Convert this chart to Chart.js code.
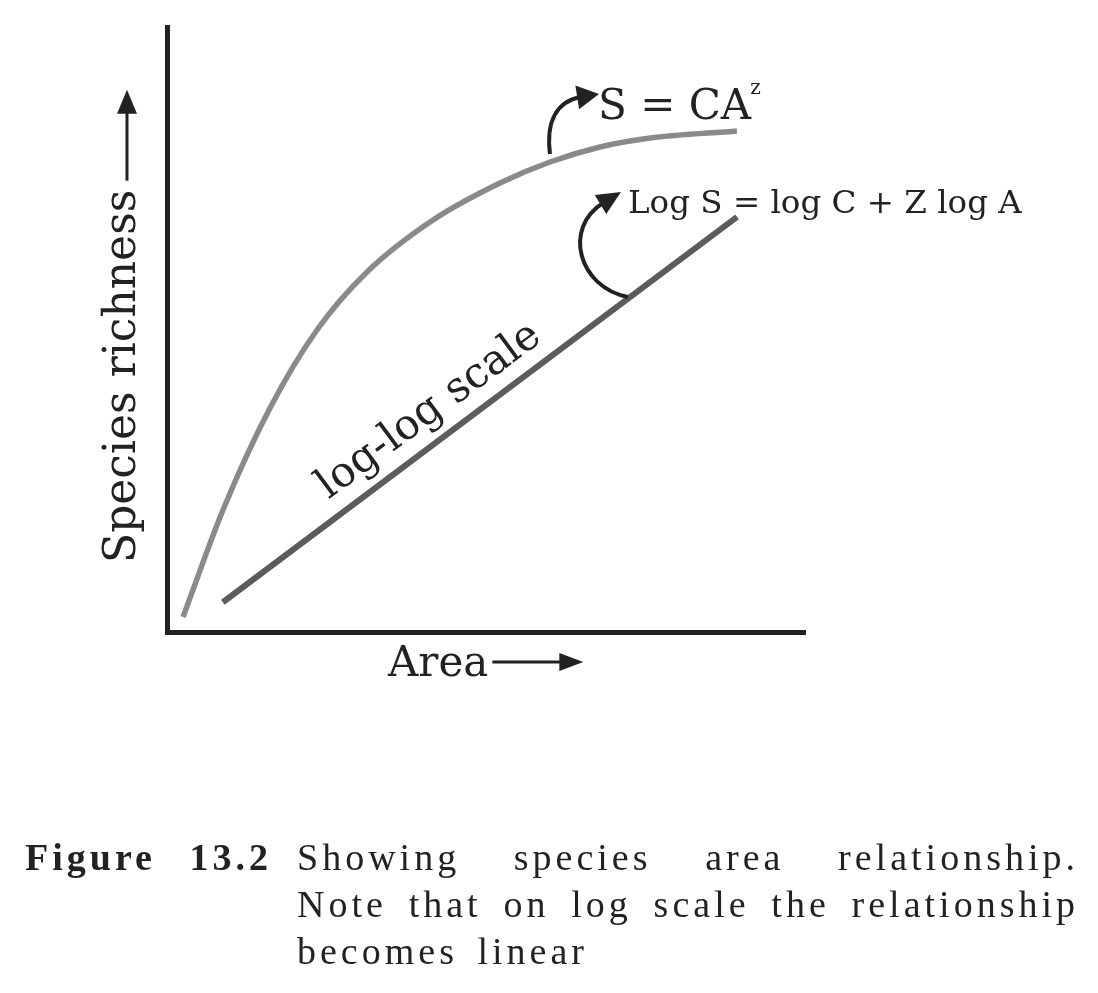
<!DOCTYPE html>
<html>
<head>
<meta charset="utf-8">
<script src="https://cdn.jsdelivr.net/npm/chart.js@4.4.0/dist/chart.umd.min.js"></script>
<style>
  html, body { margin: 0; padding: 0; background: #fff; }
  #wrap { position: relative; width: 1098px; height: 993px; overflow: hidden; }
  #c { position: absolute; left: 0; top: 0; }
  #caption {
    position: absolute; left: 25px; top: 834px; width: 1070px;
    display: flex; font-family: "Liberation Serif", serif; font-size: 38px;
    line-height: 47px; color: #222;
  }
  #caption .label { width: 272px; flex: none; font-weight: bold; letter-spacing: 4px; word-spacing: 20px; white-space: nowrap; }
  #caption .body { width: 782px; flex: none; letter-spacing: 4px; }
  #caption .body div { white-space: nowrap; }
  #caption .body .full { text-align: justify; text-align-last: justify; white-space: normal; }
  #caption .body .last { word-spacing: 6px; }
</style>
</head>
<body>
<div id="wrap">
  <canvas id="c" width="1098" height="993"></canvas>
  <div id="caption">
    <div class="label">Figure 13.2</div>
    <div class="body">
      <div class="full">Showing species area relationship.</div>
      <div class="full">Note that on log scale the relationship</div>
      <div class="last">becomes linear</div>
    </div>
  </div>
</div>
<script>
// species-area curve (S = CA^z)
var curveArea     = [2.35, 8.62, 15.99, 23.35, 31.19, 41.54, 52.04, 59.87, 67.71, 75.55, 89.18];
var curveRichness = [2.47, 20.10, 36.90, 49.75, 59.31, 67.87, 73.97, 77.43, 79.90, 81.38, 82.54];
// log-log straight line
var lineArea     = [8.6, 89.2];
var lineRichness = [4.9, 68.4];

var ink = '#222';
var serif = '"DejaVu Serif", serif';

function toPoints(xs, ys) {
  return xs.map(function (v, i) { return { x: v, y: ys[i] }; });
}

function arrowHead(ctx, tx, ty, ang, len, half) {
  var bx = tx - len * Math.cos(ang), by = ty - len * Math.sin(ang);
  ctx.beginPath();
  ctx.moveTo(tx, ty);
  ctx.lineTo(bx + half * Math.sin(ang), by - half * Math.cos(ang));
  ctx.lineTo(bx - half * Math.sin(ang), by + half * Math.cos(ang));
  ctx.closePath();
  ctx.fill();
}

// curved pointer: cubic from p[0]..p[3], head towards p[4] (data units)
function curvedArrow(ctx, sx, sy, p, len, half) {
  var q = p.map(function (d) { return [sx.getPixelForValue(d[0]), sy.getPixelForValue(d[1])]; });
  ctx.beginPath();
  ctx.moveTo(q[0][0], q[0][1]);
  ctx.bezierCurveTo(q[1][0], q[1][1], q[2][0], q[2][1], q[3][0], q[3][1]);
  ctx.stroke();
  var ang = Math.atan2(q[4][1] - q[3][1], q[4][0] - q[3][0]);
  arrowHead(ctx, q[4][0], q[4][1], ang, len, half);
}

var decor = {
  id: 'decor',
  afterDatasetsDraw: function (chart) {
    var ctx = chart.ctx, a = chart.chartArea;
    var sx = chart.scales.x, sy = chart.scales.y;
    ctx.save();
    ctx.strokeStyle = ink;
    ctx.fillStyle = ink;

    // axes
    ctx.lineWidth = 5;
    ctx.lineJoin = 'miter';
    ctx.beginPath();
    ctx.moveTo(a.left - 0.5, a.top);
    ctx.lineTo(a.left - 0.5, a.bottom + 0.5);
    ctx.lineTo(a.right, a.bottom + 0.5);
    ctx.stroke();

    // pointers to the equations
    ctx.lineWidth = 4;
    ctx.lineCap = 'butt';
    curvedArrow(ctx, sx, sy, [[59.87, 78.75], [59.25, 84.02], [60.82, 87.31], [64.58, 88.14], [67.55, 88.63]], 22, 12);
    curvedArrow(ctx, sx, sy, [[72.10, 55.19], [64.26, 56.84], [61.91, 66.56], [68.18, 70.68], [71.0, 72.49]], 24, 11);

    // equations
    ctx.textBaseline = 'alphabetic';
    ctx.textAlign = 'left';
    ctx.font = '42px ' + serif;
    var ex = sx.getPixelForValue(67.4), ey = sy.getPixelForValue(84.5);
    ctx.fillText('S = CA', ex, ey);
    var w = ctx.measureText('S = CA').width;
    ctx.font = '20px ' + serif;
    ctx.fillText('z', ex + w - 1, ey - 25);

    ctx.font = '32.5px ' + serif;
    ctx.fillText('Log S = log C + Z log A', sx.getPixelForValue(72.1), sy.getPixelForValue(69.0));

    // label along the straight line
    ctx.save();
    ctx.translate(sx.getPixelForValue(42.0), sy.getPixelForValue(34.93));
    ctx.rotate(-36.5 * Math.PI / 180);
    ctx.font = '42px ' + serif;
    ctx.textAlign = 'center';
    ctx.fillText('log-log scale', 0, 0);
    ctx.restore();

    // y axis title with arrow
    ctx.save();
    ctx.translate(a.left - 33, a.bottom - 69);
    ctx.rotate(-Math.PI / 2);
    ctx.font = '44px ' + serif;
    ctx.textAlign = 'left';
    ctx.fillText('Species richness', 0, 0);
    var tw = ctx.measureText('Species richness').width;
    ctx.lineWidth = 3;
    ctx.beginPath();
    ctx.moveTo(tw + 9, -8);
    ctx.lineTo(tw + 80, -8);
    ctx.stroke();
    arrowHead(ctx, tw + 100, -8, 0, 24, 10);
    ctx.restore();

    // x axis title with arrow
    ctx.font = '42px ' + serif;
    ctx.textAlign = 'left';
    var ax = a.left + 220, ay = a.bottom + 44;
    ctx.fillText('Area', ax, ay);
    var aw = ctx.measureText('Area').width;
    ctx.lineWidth = 3;
    ctx.beginPath();
    ctx.moveTo(ax + aw + 4, ay - 14);
    ctx.lineTo(ax + aw + 75, ay - 14);
    ctx.stroke();
    arrowHead(ctx, ax + aw + 95, ay - 14, 0, 24, 9);

    ctx.restore();
  }
};

new Chart(document.getElementById('c').getContext('2d'), {
  type: 'line',
  data: {
    datasets: [{
      label: 'S = CA^z',
      data: toPoints(curveArea, curveRichness),
      borderColor: '#8a8a8a',
      borderWidth: 5.5,
      borderCapStyle: 'butt',
      cubicInterpolationMode: 'monotone',
      pointRadius: 0,
      fill: false
    }, {
      label: 'log-log scale',
      data: toPoints(lineArea, lineRichness),
      borderColor: '#5c5c5c',
      borderWidth: 6,
      borderCapStyle: 'butt',
      pointRadius: 0,
      fill: false
    }]
  },
  options: {
    responsive: false,
    animation: false,
    devicePixelRatio: 1,
    layout: { padding: { left: 168, top: 25, right: 292, bottom: 361 } },
    scales: {
      x: { type: 'linear', min: 0, max: 100, display: false },
      y: { type: 'linear', min: 0, max: 100, display: false }
    },
    plugins: { legend: { display: false }, tooltip: { enabled: false } }
  },
  plugins: [decor]
});
</script>
</body>
</html>
